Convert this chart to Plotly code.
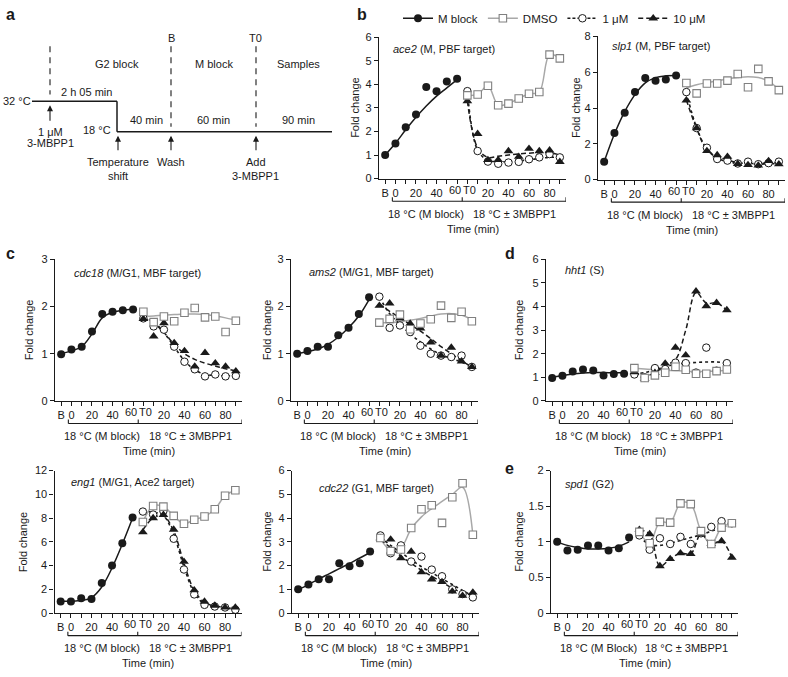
import plotly.graph_objects as go

W, H = 788, 677
FONT = "Liberation Sans, Arial, Helvetica, sans-serif"
INK = "#1a1a1a"
GREY_LINE = "#a8a8a8"
GREY_MARK = "#808080"

# ---------------- shared x layout (B, M block 0-60, T0..90) ----------------
X_MBLOCK = [-10, 0, 10, 20, 30, 40, 50, 60]
X_TREAT = [70, 80, 90, 100, 110, 120, 130, 140, 150, 160]
X_TICKVALS = list(range(-10, 161, 10))
# "60" and "T0" sit only 10 min apart; they are drawn as separate labels below
X_TICKTEXT = ["B", "0", "", "20", "", "40", "", "", "", "", "20", "", "40", "", "60", "", "80", ""]
X_CROWDED_LABELS = [("60", 57.5), ("T0", 72.5)]
X_RANGE = [-16, 166]

# ---------------- data (fold change) ----------------
ace2_mblock = [1.0, 1.49, 2.18, 2.72, 3.89, 3.71, 4.12, 4.24]
ace2_mblock_fit = [1.0, 1.5, 2.07, 2.6, 3.08, 3.5, 3.85, 4.2]
ace2_dmso = [3.53, 3.57, 3.94, 3.11, 3.18, 3.40, 3.60, 3.67, 5.26, 5.10]
ace2_1um = [3.71, 1.17, 0.72, 0.63, 0.68, 0.71, 0.82, 0.90, 1.04, 0.90]
ace2_1um_fit = [3.7, 1.2, 0.78, 0.72, 0.72, 0.75, 0.8, 0.85, 0.9, 0.9]
ace2_10um = [3.29, 1.90, 0.79, 0.79, 1.17, 0.93, 1.27, 1.17, 1.20, 0.71]
ace2_10um_fit = [3.3, 1.3, 0.9, 0.95, 1.0, 1.05, 1.08, 1.1, 1.1, 1.0]

slp1_mblock = [1.0, 2.6, 3.74, 4.9, 5.68, 5.53, 5.59, 5.82]
slp1_mblock_fit = [1.0, 2.55, 3.8, 4.75, 5.4, 5.7, 5.8, 5.82]
slp1_dmso = [5.4, 4.82, 5.37, 5.37, 5.53, 5.9, 5.16, 6.19, 5.49, 5.0]
slp1_dmso_fit = [5.13, 5.3, 5.42, 5.52, 5.62, 5.7, 5.75, 5.7, 5.5, 5.02]
slp1_1um = [4.89, 2.88, 1.78, 1.15, 1.06, 0.9, 1.0, 0.86, 0.92, 1.0]
slp1_1um_fit = [4.85, 2.9, 1.7, 1.2, 1.0, 0.92, 0.9, 0.9, 0.92, 0.95]
slp1_10um = [4.43, 2.88, 1.6, 1.37, 1.28, 0.88, 0.82, 0.79, 1.04, 0.86]
slp1_10um_fit = [4.45, 2.85, 1.65, 1.3, 1.1, 0.95, 0.88, 0.85, 0.88, 0.88]

cdc18_mblock = [0.99, 1.09, 1.15, 1.47, 1.84, 1.89, 1.92, 1.94]
cdc18_mblock_fit = [1.0, 1.06, 1.15, 1.42, 1.76, 1.88, 1.92, 1.95]
cdc18_dmso = [1.89, 1.67, 1.79, 1.69, 1.87, 1.97, 1.77, 1.79, 1.46, 1.70]
cdc18_dmso_fit = [1.79, 1.8, 1.82, 1.83, 1.84, 1.84, 1.83, 1.8, 1.76, 1.71]
cdc18_1um = [1.75, 1.58, 1.51, 1.15, 0.83, 0.67, 0.52, 0.56, 0.52, 0.53]
cdc18_1um_fit = [1.75, 1.68, 1.45, 1.15, 0.85, 0.66, 0.56, 0.54, 0.53, 0.54]
cdc18_10um = [1.74, 1.37, 1.65, 1.23, 1.06, 0.73, 1.02, 0.80, 0.73, 0.63]
cdc18_10um_fit = [1.75, 1.65, 1.45, 1.2, 1.0, 0.88, 0.8, 0.74, 0.68, 0.64]

ams2_mblock = [1.0, 1.06, 1.15, 1.15, 1.39, 1.55, 1.84, 2.2]
ams2_mblock_fit = [1.0, 1.04, 1.1, 1.2, 1.35, 1.55, 1.8, 2.15]
ams2_dmso = [1.66, 1.74, 1.83, 1.52, 1.64, 1.73, 2.02, 1.76, 1.89, 1.69]
ams2_dmso_fit = [1.66, 1.66, 1.68, 1.71, 1.75, 1.8, 1.84, 1.85, 1.82, 1.72]
ams2_1um = [2.21, 1.55, 1.6, 1.46, 1.17, 1.0, 0.96, 0.93, 0.96, 0.72]
ams2_1um_fit = [2.2, 1.85, 1.62, 1.42, 1.25, 1.1, 0.98, 0.9, 0.82, 0.74]
ams2_10um = [2.02, 2.07, 1.75, 1.64, 1.54, 1.24, 0.96, 1.13, 0.84, 0.72]
ams2_10um_fit = [2.05, 1.9, 1.76, 1.62, 1.48, 1.32, 1.15, 1.0, 0.85, 0.72]

hht1_mblock = [0.97, 1.07, 1.25, 1.33, 1.29, 1.08, 1.14, 1.15]
hht1_mblock_fit = [1.0, 1.08, 1.14, 1.18, 1.2, 1.2, 1.19, 1.19]
hht1_dmso = [1.39, 0.97, 1.08, 1.19, 1.45, 1.32, 1.15, 1.15, 1.26, 1.33]
hht1_dmso_fit = [1.38, 1.35, 1.32, 1.3, 1.28, 1.26, 1.25, 1.25, 1.27, 1.3]
hht1_1um = [1.12, 1.0, 1.39, 1.35, 1.62, 1.6, 1.2, 2.26, 1.28, 1.6]
hht1_1um_fit = [1.15, 1.2, 1.32, 1.45, 1.55, 1.6, 1.63, 1.65, 1.65, 1.6]
hht1_10um = [1.22, 0.94, 1.19, 1.59, 2.26, 1.94, 4.65, 4.02, 4.16, 3.85]
hht1_10um_fit = [1.22, 1.05, 1.2, 1.5, 1.75, 3.0, 4.6, 4.15, 4.15, 3.85]

eng1_mblock = [0.97, 0.97, 1.24, 1.19, 2.54, 4.0, 5.88, 8.06]
eng1_mblock_fit = [1.0, 1.0, 1.05, 1.3, 2.2, 3.8, 5.8, 8.0]
eng1_dmso = [7.67, 9.02, 8.97, 8.19, 7.53, 7.86, 8.14, 8.74, 9.88, 10.34]
eng1_1um = [8.55, 8.3, 8.6, 6.26, 3.67, 1.57, 0.69, 0.55, 0.47, 0.28]
eng1_1um_fit = [8.5, 8.5, 8.2, 6.6, 3.9, 1.7, 0.75, 0.55, 0.45, 0.35]
eng1_10um = [6.81, 8.0, 8.28, 7.03, 4.33, 1.93, 0.97, 0.63, 0.47, 0.47]
eng1_10um_fit = [7.0, 8.0, 8.2, 6.9, 4.2, 1.9, 0.9, 0.6, 0.5, 0.45]

cdc22_mblock = [1.0, 1.2, 1.42, 1.42, 2.1, 1.97, 2.1, 2.59]
cdc22_mblock_fit = [0.98, 1.2, 1.43, 1.65, 1.87, 2.09, 2.32, 2.54]
cdc22_dmso = [3.16, 2.61, 2.68, 3.58, 4.37, 4.54, 3.8, 4.88, 5.47, 3.3]
cdc22_dmso_fit = [3.15, 2.65, 2.75, 3.55, 4.05, 4.4, 4.7, 5.0, 5.3, 3.3]
cdc22_1um = [3.27, 2.52, 2.85, 2.17, 2.38, 1.83, 1.55, 1.0, 0.8, 0.66]
cdc22_1um_fit = [3.2, 2.85, 2.55, 2.25, 1.95, 1.7, 1.45, 1.2, 0.95, 0.72]
cdc22_10um = [3.16, 3.1, 2.31, 2.59, 1.72, 1.42, 1.31, 0.91, 0.73, 0.87]
cdc22_10um_fit = [3.1, 2.75, 2.4, 2.1, 1.8, 1.55, 1.3, 1.05, 0.85, 0.75]

spd1_mblock = [1.0, 0.88, 0.89, 0.95, 0.95, 0.88, 0.91, 1.06]
spd1_mblock_fit = [1.0, 0.95, 0.92, 0.9, 0.9, 0.91, 0.94, 1.0]
spd1_dmso = [1.14, 0.98, 1.28, 1.27, 1.54, 1.53, 1.15, 0.97, 1.2, 1.26]
spd1_1um = [1.09, 0.89, 1.05, 0.97, 1.07, 0.97, 1.12, 1.21, 1.29, 1.26]
spd1_1um_fit = [1.08, 0.96, 0.95, 0.98, 1.02, 1.06, 1.1, 1.15, 1.2, 1.25]
spd1_10um = [1.17, 1.11, 0.66, 0.76, 0.84, 0.83, 1.11, 0.97, 1.01, 0.78]

SERIES_NAMES = ["M block", "DMSO", "1 \u03bcM", "10 \u03bcM"]

# ---------------- panel layout table ----------------
PW = 187  # plot width in px
PANELS = [
    dict(label="<i>ace2</i> (M, PBF target)", left=379, top=31.7, bottom=175.7,
         yvals=[0, 1, 2, 3, 4, 5, 6], ytext=None, tdx=-24, ldx=12, ldy=12, mtext="18 \u00b0C (M block)",
         mb=ace2_mblock, mbf=ace2_mblock_fit, dm=ace2_dmso, dmf=ace2_dmso,
         u1=ace2_1um, u1f=ace2_1um_fit, u10=ace2_10um, u10f=ace2_10um_fit),
    dict(label="<i>slp1</i> (M, PBF target)", left=598, top=31.0, bottom=176.7,
         yvals=[0, 2, 4, 6, 8], ytext=None, tdx=-22, ldx=12, ldy=10, mtext="18 \u00b0C (M block)",
         mb=slp1_mblock, mbf=slp1_mblock_fit, dm=slp1_dmso, dmf=slp1_dmso_fit,
         u1=slp1_1um, u1f=slp1_1um_fit, u10=slp1_10um, u10f=slp1_10um_fit),
    dict(label="<i>cdc18</i> (M/G1, MBF target)", left=55, top=258, bottom=402,
         yvals=[0, 1, 2, 3], ytext=None, tdx=-26, ldx=17, ldy=14, mtext="18 \u00b0C (M block)",
         mb=cdc18_mblock, mbf=cdc18_mblock_fit, dm=cdc18_dmso, dmf=cdc18_dmso_fit,
         u1=cdc18_1um, u1f=cdc18_1um_fit, u10=cdc18_10um, u10f=cdc18_10um_fit),
    dict(label="<i>ams2</i> (M/G1, MBF target)", left=291, top=258, bottom=402,
         yvals=[0, 1, 2, 3], ytext=None, tdx=-24, ldx=16, ldy=13, mtext="18 \u00b0C (M block)",
         mb=ams2_mblock, mbf=ams2_mblock_fit, dm=ams2_dmso, dmf=ams2_dmso_fit,
         u1=ams2_1um, u1f=ams2_1um_fit, u10=ams2_10um, u10f=ams2_10um_fit),
    dict(label="<i>hht1</i> (S)", left=546, top=258, bottom=402,
         yvals=[0, 1, 2, 3, 4, 5, 6], ytext=None, tdx=-27, ldx=17, ldy=11, mtext="18 \u00b0C (M block)",
         mb=hht1_mblock, mbf=hht1_mblock_fit, dm=hht1_dmso, dmf=hht1_dmso_fit,
         u1=hht1_1um, u1f=hht1_1um_fit, u10=hht1_10um, u10f=hht1_10um_fit),
    dict(label="<i>eng1</i> (M/G1, Ace2 target)", left=54.5, top=473, bottom=618,
         yvals=[0, 2, 4, 6, 8, 10, 12], ytext=None, tdx=-32, ldx=14, ldy=12, mtext="18 \u00b0C (M block)",
         mb=eng1_mblock, mbf=eng1_mblock_fit, dm=eng1_dmso, dmf=eng1_dmso,
         u1=eng1_1um, u1f=eng1_1um_fit, u10=eng1_10um, u10f=eng1_10um_fit),
    dict(label="<i>cdc22</i> (G1, MBF target)", left=292, top=473, bottom=618,
         yvals=[0, 1, 2, 3, 4, 5, 6], ytext=None, tdx=-25, ldx=25, ldy=18, mtext="18 \u00b0C (M block)",
         mb=cdc22_mblock, mbf=cdc22_mblock_fit, dm=cdc22_dmso, dmf=cdc22_dmso_fit,
         u1=cdc22_1um, u1f=cdc22_1um_fit, u10=cdc22_10um, u10f=cdc22_10um_fit),
    dict(label="<i>spd1</i> (G2)", left=551, top=473, bottom=618,
         yvals=[0, 0.5, 1, 1.5, 2], ytext=["0", "0.5", "1", "1.5", "2"], tdx=-32, ldx=12, ldy=14,
         mtext="18 \u00b0C (M Block)",
         mb=spd1_mblock, mbf=spd1_mblock_fit, dm=spd1_dmso, dmf=spd1_dmso,
         u1=spd1_1um, u1f=spd1_1um_fit, u10=spd1_10um, u10f=spd1_10um),
]


def px(x):
    return x / W


def py(y):
    return 1 - y / H


fig = go.Figure()
shapes = []
annotations = []
layout_axes = {}

LINE_STYLES = {
    "mb": dict(color=INK, width=1.5),
    "dm": dict(color=GREY_LINE, width=1.5),
    "u1": dict(color=INK, width=1.6, dash="dot"),
    "u10": dict(color=INK, width=1.5, dash="5px,3px"),
}
MARKER_STYLES = {
    "mb": dict(symbol="circle", size=8, color=INK, line=dict(width=0)),
    "dm": dict(symbol="square", size=7.5, color="white", line=dict(color=GREY_MARK, width=1.1)),
    "u1": dict(symbol="circle", size=7.5, color="white", line=dict(color=INK, width=1)),
    "u10": dict(symbol="triangle-up", size=8.5, color=INK, line=dict(width=0)),
}

for i, p in enumerate(PANELS):
    k = i + 1
    xa = "x" if k == 1 else f"x{k}"
    ya = "y" if k == 1 else f"y{k}"
    h = p["bottom"] - p["top"]

    # fitted/smoothed lines first, markers on top
    for key, xs, ys in [("dm", X_TREAT, p["dmf"]), ("u1", X_TREAT, p["u1f"]),
                        ("u10", X_TREAT, p["u10f"]), ("mb", X_MBLOCK, p["mbf"])]:
        fig.add_trace(go.Scatter(x=xs, y=ys, mode="lines", xaxis=xa, yaxis=ya,
                                 line=dict(shape="spline", smoothing=1.0, **LINE_STYLES[key]),
                                 showlegend=False, hoverinfo="skip", cliponaxis=False))
    for key, xs, ys in [("u1", X_TREAT, p["u1"]), ("u10", X_TREAT, p["u10"]),
                        ("dm", X_TREAT, p["dm"]), ("mb", X_MBLOCK, p["mb"])]:
        fig.add_trace(go.Scatter(x=xs, y=ys, mode="markers", xaxis=xa, yaxis=ya,
                                 marker=MARKER_STYLES[key], showlegend=False,
                                 cliponaxis=False))

    axis_common = dict(showgrid=False, zeroline=False, showline=True, linecolor=INK,
                       linewidth=1.2, ticks="outside", ticklen=4, tickwidth=1.1,
                       tickcolor=INK, tickangle=0,
                       tickfont=dict(family=FONT, size=11, color=INK))
    layout_axes["xaxis" if k == 1 else f"xaxis{k}"] = dict(
        domain=[px(p["left"]), px(p["left"] + PW)], anchor=ya, range=X_RANGE,
        tickmode="array", tickvals=X_TICKVALS, ticktext=X_TICKTEXT, **axis_common)
    yd = dict(domain=[py(p["bottom"]), py(p["top"])], anchor=xa,
              range=[0, p["yvals"][-1]], tickmode="array", tickvals=p["yvals"], **axis_common)
    if p["ytext"]:
        yd["ticktext"] = p["ytext"]
    layout_axes["yaxis" if k == 1 else f"yaxis{k}"] = yd

    dref = f"{ya} domain"
    # crowded tick labels "60" / "T0"
    for txt, xv in X_CROWDED_LABELS:
        annotations.append(dict(text=txt, xref=xa, yref=dref, x=xv, y=-11.5 / h,
                                showarrow=False, xanchor="center", yanchor="middle",
                                font=dict(family=FONT, size=11, color=INK)))

    # brackets under the time axis
    yb = -23 / h
    yt = -19 / h
    shapes.append(dict(type="line", xref=xa, yref=dref, x0=-3, x1=166, y0=yb, y1=yb,
                       line=dict(color=INK, width=1.1)))
    for xv in (-3, 65, 166):
        shapes.append(dict(type="line", xref=xa, yref=dref, x0=xv, x1=xv, y0=yb, y1=yt,
                           line=dict(color=INK, width=1.1)))
    annotations.append(dict(text=p["mtext"], xref=xa, yref=dref, x=30, y=-36 / h,
                            showarrow=False, xanchor="center", yanchor="middle"))
    annotations.append(dict(text="18 \u00b0C \u00b1 3MBPP1", xref=xa, yref=dref, x=116, y=-36 / h,
                            showarrow=False, xanchor="center", yanchor="middle"))
    annotations.append(dict(text="Time (min)", xref=xa, yref=dref, x=75, y=-51 / h,
                            showarrow=False, xanchor="center", yanchor="middle"))
    annotations.append(dict(text="Fold change", xref="paper", yref="paper",
                            x=px(p["left"] + p["tdx"]), y=py((p["top"] + p["bottom"]) / 2),
                            textangle=-90, showarrow=False, xanchor="center", yanchor="middle"))
    annotations.append(dict(text=p["label"], xref="paper", yref="paper",
                            x=px(p["left"] + p["ldx"]), y=py(p["top"] + p["ldy"]),
                            showarrow=False, xanchor="left", yanchor="middle"))

# ---------------- legend entries ----------------
for key, name in zip(["mb", "dm", "u1", "u10"], SERIES_NAMES):
    ls = dict(LINE_STYLES[key])
    if key == "u1":
        ls["dash"] = "3px,2px"
    fig.add_trace(go.Scatter(x=[None], y=[None], mode="lines+markers", name=name,
                             line=ls, marker=MARKER_STYLES[key], xaxis="x2", yaxis="y2",
                             showlegend=True))

# ---------------- panel letters ----------------
for letter, (lx, ly) in {"a": (4, 9), "b": (355, 9), "c": (4, 252), "d": (503, 252),
                         "e": (503, 471)}.items():
    annotations.append(dict(text=f"<b>{letter}</b>", xref="paper", yref="paper",
                            x=px(lx), y=py(ly), showarrow=False, xanchor="left",
                            yanchor="middle", font=dict(family=FONT, size=16, color=INK)))

# ---------------- schematic (panel a) ----------------
def sline(x0, y0, x1, y1, width=1.5, dash=None):
    d = dict(type="line", xref="paper", yref="paper", x0=px(x0), y0=py(y0), x1=px(x1), y1=py(y1),
             line=dict(color=INK, width=width))
    if dash:
        d["line"]["dash"] = dash
    shapes.append(d)


def stext(t, x, y, anchor="center"):
    annotations.append(dict(text=t, xref="paper", yref="paper", x=px(x), y=py(y),
                            showarrow=False, xanchor=anchor, yanchor="middle"))


def sarrow(x, y_head, y_tail):
    annotations.append(dict(text="", xref="paper", yref="paper", x=px(x), y=py(y_head),
                            ax=0, ay=y_tail - y_head, showarrow=True, arrowhead=2,
                            arrowsize=1.1, arrowwidth=1.1, arrowcolor=INK))


sline(32, 97, 117, 97)
sline(117, 97, 117, 128)
sline(117, 128, 332, 128)
sline(50, 41, 50, 90, width=1.1, dash="6px,5px")
sline(171, 41, 171, 123, width=1.1, dash="6px,5px")
sline(256, 41, 256, 123, width=1.1, dash="6px,5px")

stext("B", 171, 33)
stext("T0", 256, 33)
stext("G2 block", 117, 59)
stext("M block", 214, 59)
stext("Samples", 298, 59)
stext("32 \u00b0C", 1, 97, anchor="left")
stext("2 h 05 min", 86, 88)
stext("40 min", 146, 116)
stext("60 min", 214, 116)
stext("90 min", 298, 116)
stext("18 \u00b0C", 113, 126, anchor="right")
stext("1 \u03bcM", 50, 128)
stext("3-MBPP1", 50, 139)
stext("Temperature", 118, 159)
stext("shift", 118, 173)
stext("Wash", 171, 159)
stext("Add", 256, 159)
stext("3-MBPP1", 256, 173)
sarrow(50, 101, 118)
sarrow(118, 132, 148)
sarrow(171, 132, 148)
sarrow(256, 132, 148)

fig.update_layout(
    width=W, height=H, autosize=False,
    margin=dict(l=0, r=0, t=0, b=0),
    paper_bgcolor="white", plot_bgcolor="white",
    font=dict(family=FONT, size=11, color=INK),
    shapes=shapes, annotations=annotations,
    showlegend=True,
    legend=dict(orientation="h", x=px(398), y=py(12.5), xanchor="left", yanchor="middle",
                font=dict(family=FONT, size=11.5, color=INK), bgcolor="rgba(0,0,0,0)",
                itemwidth=30, tracegroupgap=0),
    **layout_axes,
)

# remove the browser's default 8px page margin so the figure sits at the window origin
fig.write_html("out.html", config={"displayModeBar": False},
               post_script="document.body.style.margin='0px';"
                           "document.body.style.overflow='hidden';")
